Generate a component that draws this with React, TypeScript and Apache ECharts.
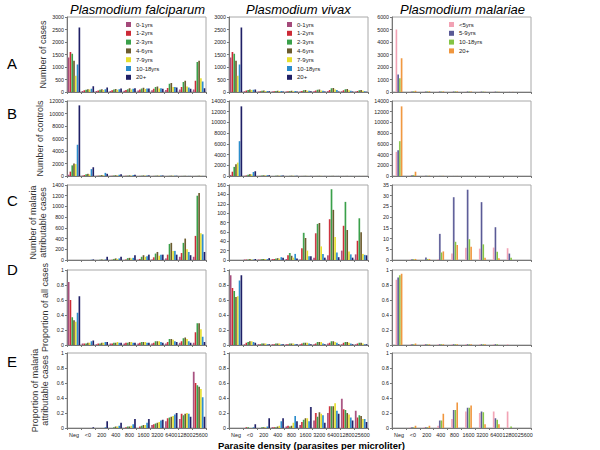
import React, { useEffect, useRef } from 'react';
import * as echarts from 'echarts';

const categories = ['Neg', '<0', '200', '400', '800', '1600', '3200', '6400', '12800', '25600'];
const ageGroups = ['0-1yrs', '1-2yrs', '2-3yrs', '4-6yrs', '7-9yrs', '10-18yrs', '20+'];
const malariaeAgeGroups = ['<5yrs', '5-9yrs', '10-18yrs', '20+'];
const columnTitles = ['Plasmodium falciparum', 'Plasmodium vivax', 'Plasmodium malariae'];
const rowLetters = ['A', 'B', 'C', 'D', 'E'];
const rowNames = [
  'Number of cases',
  'Number of controls',
  'Number of malaria\nattributable cases',
  'Proportion of all cases',
  'Proportion of malaria\nattributable cases',
];
const xTitle = 'Parasite density (parasites per microliter)';

// Y axis ranges per [row][col]
const yMaxes = [[3000, 3000, 6000], [12000, 14000, 14000], [1400, 160, 35], [1, 1, 1], [1, 1, 1]];
const yIntervals = [[500, 500, 1000], [2000, 2000, 2000], [200, 20, 5], [0.2, 0.2, 0.2], [0.2, 0.2, 0.2]];

// Each row = one parasite density category, values per age group
// P. falciparum
const pfCases = [
  [1380, 1600, 1530, 1250, 650, 1100, 2580],
  [40, 70, 90, 110, 100, 130, 230],
  [40, 60, 90, 110, 80, 110, 180],
  [40, 70, 100, 120, 90, 110, 140],
  [50, 80, 110, 150, 100, 130, 150],
  [60, 100, 140, 170, 120, 140, 140],
  [70, 130, 200, 220, 140, 150, 130],
  [80, 160, 330, 360, 200, 200, 180],
  [100, 200, 400, 450, 220, 180, 130],
  [100, 450, 1200, 1250, 550, 420, 150],
];
const pfControls = [
  [200, 700, 1700, 2000, 1900, 5000, 11300],
  [50, 150, 300, 350, 250, 1100, 1400],
  [20, 50, 100, 150, 100, 500, 350],
  [20, 40, 80, 120, 80, 200, 300],
  [10, 30, 60, 100, 60, 150, 200],
  [10, 20, 50, 80, 60, 100, 100],
  [10, 20, 40, 60, 50, 80, 80],
  [5, 10, 30, 50, 30, 50, 40],
  [5, 10, 20, 30, 20, 20, 10],
  [5, 10, 20, 30, 20, 10, 5],
];
const pfAttributable = [
  [0, 0, 0, 0, 0, 0, 0],
  [0, 0, 0, 0, 0, 5, 10],
  [0, 0, 5, 10, 5, 10, 60],
  [0, 5, 20, 30, 20, 30, 60],
  [0, 10, 35, 40, 30, 40, 90],
  [5, 20, 60, 90, 60, 70, 100],
  [10, 50, 120, 150, 80, 100, 100],
  [30, 100, 300, 320, 170, 170, 100],
  [60, 130, 320, 400, 200, 150, 90],
  [60, 450, 1200, 1250, 500, 480, 150],
];
const pfPropAll = [
  [0.84, 0.6, 0.37, 0.33, 0.31, 0.43, 0.65],
  [0.02, 0.02, 0.02, 0.03, 0.03, 0.05, 0.06],
  [0.01, 0.02, 0.02, 0.03, 0.03, 0.04, 0.04],
  [0.02, 0.02, 0.03, 0.03, 0.04, 0.03, 0.03],
  [0.02, 0.03, 0.03, 0.04, 0.04, 0.03, 0.03],
  [0.02, 0.03, 0.04, 0.04, 0.04, 0.03, 0.03],
  [0.02, 0.03, 0.05, 0.05, 0.05, 0.04, 0.03],
  [0.02, 0.04, 0.08, 0.08, 0.07, 0.05, 0.04],
  [0.03, 0.05, 0.09, 0.1, 0.08, 0.05, 0.03],
  [0.03, 0.17, 0.29, 0.29, 0.21, 0.11, 0.04],
];
const pfPropAttributable = [
  [0, 0, 0, 0, 0, 0, 0],
  [0, 0, 0, 0, 0, 0, 0.01],
  [0, 0, 0, 0, 0, 0.01, 0.09],
  [0, 0, 0.01, 0.02, 0.02, 0.03, 0.07],
  [0, 0.01, 0.02, 0.02, 0.03, 0.05, 0.12],
  [0, 0.02, 0.03, 0.04, 0.04, 0.07, 0.12],
  [0.04, 0.05, 0.06, 0.07, 0.08, 0.1, 0.11],
  [0.09, 0.13, 0.14, 0.15, 0.16, 0.18, 0.2],
  [0.12, 0.19, 0.17, 0.19, 0.2, 0.19, 0.15],
  [0.75, 0.6, 0.57, 0.55, 0.52, 0.41, 0.15],
];

// P. vivax
const pvCases = [
  [1380, 1600, 1530, 1250, 650, 1100, 2580],
  [30, 60, 80, 100, 80, 90, 100],
  [20, 30, 50, 60, 40, 40, 30],
  [20, 30, 40, 50, 40, 40, 20],
  [20, 30, 40, 50, 30, 40, 20],
  [20, 40, 70, 80, 50, 50, 30],
  [30, 60, 90, 100, 60, 50, 20],
  [40, 80, 150, 160, 100, 80, 20],
  [30, 70, 110, 120, 70, 50, 20],
  [20, 40, 70, 80, 50, 30, 10],
];
const pvControls = [
  [200, 800, 1700, 2200, 2500, 6500, 13000],
  [30, 100, 250, 350, 300, 750, 900],
  [10, 30, 80, 120, 100, 150, 150],
  [5, 20, 50, 70, 60, 80, 80],
  [5, 15, 30, 50, 40, 40, 40],
  [5, 10, 20, 30, 20, 20, 20],
  [5, 10, 20, 30, 20, 20, 10],
  [5, 10, 20, 30, 20, 10, 10],
  [5, 10, 10, 20, 10, 10, 5],
  [5, 5, 10, 10, 10, 5, 5],
];
const pvAttributable = [
  [0, 0, 0, 0, 0, 0, 0],
  [1, 1, 1, 2, 1, 1, 2],
  [1, 1, 2, 2, 2, 2, 4],
  [2, 2, 3, 4, 3, 6, 5],
  [2, 10, 15, 9, 5, 13, 3],
  [1, 25, 58, 47, 20, 8, 8],
  [5, 57, 77, 79, 29, 13, 5],
  [10, 87, 151, 107, 49, 16, 6],
  [20, 73, 124, 64, 18, 12, 5],
  [12, 41, 89, 59, 13, 11, 10],
];
const pvPropAll = [
  [0.93, 0.76, 0.72, 0.64, 0.65, 0.86, 0.93],
  [0.01, 0.03, 0.04, 0.05, 0.05, 0.04, 0.03],
  [0.01, 0.01, 0.02, 0.02, 0.02, 0.01, 0.01],
  [0.01, 0.01, 0.02, 0.02, 0.02, 0.01, 0.01],
  [0.01, 0.01, 0.02, 0.02, 0.02, 0.01, 0.01],
  [0.01, 0.02, 0.03, 0.03, 0.03, 0.02, 0.01],
  [0.01, 0.02, 0.04, 0.04, 0.04, 0.02, 0.01],
  [0.02, 0.03, 0.05, 0.05, 0.04, 0.03, 0.01],
  [0.01, 0.03, 0.04, 0.04, 0.03, 0.02, 0.01],
  [0.01, 0.02, 0.03, 0.03, 0.02, 0.01, 0.01],
];
const pvPropAttributable = [
  [0, 0, 0, 0, 0, 0, 0],
  [0, 0.01, 0.01, 0, 0, 0.01, 0.05],
  [0, 0, 0.01, 0.01, 0.01, 0.02, 0.13],
  [0.01, 0.01, 0.01, 0.02, 0.03, 0.09, 0.13],
  [0.02, 0.03, 0.02, 0.03, 0.07, 0.16, 0.09],
  [0.04, 0.08, 0.11, 0.13, 0.13, 0.09, 0.28],
  [0.1, 0.2, 0.15, 0.21, 0.19, 0.17, 0.07],
  [0.2, 0.29, 0.29, 0.29, 0.33, 0.23, 0.19],
  [0.39, 0.25, 0.24, 0.2, 0.18, 0.14, 0.1],
  [0.23, 0.14, 0.17, 0.16, 0.12, 0.12, 0.08],
];

// P. malariae
const pmCases = [
  [5000, 1400, 1100, 2700],
  [30, 50, 60, 100],
  [20, 40, 50, 60],
  [20, 40, 40, 50],
  [20, 40, 50, 50],
  [20, 40, 40, 40],
  [20, 30, 30, 30],
  [20, 30, 20, 20],
  [10, 10, 10, 10],
  [0, 0, 0, 0],
];
const pmControls = [
  [4500, 4800, 6500, 13000],
  [100, 150, 200, 800],
  [20, 30, 40, 60],
  [10, 20, 20, 30],
  [10, 10, 10, 20],
  [5, 10, 10, 10],
  [5, 5, 5, 10],
  [0, 5, 5, 5],
  [0, 0, 0, 0],
  [0, 0, 0, 0],
];
const pmAttributable = [
  [0, 0, 0, 0],
  [0.2, 0.3, 0.4, 0.5],
  [0, 1.2, 0.5, 0.5],
  [0.3, 12.2, 3.5, 4],
  [3, 29.3, 8.5, 7],
  [5.7, 32.8, 9.7, 6.2],
  [5.3, 27, 7.3, 1],
  [5.8, 15.3, 3.8, 0.8],
  [5.5, 3, 1, 0],
  [0, 0, 0, 0],
];
const pmPropAll = [
  [0.87, 0.9, 0.93, 0.95],
  [0.01, 0.01, 0.01, 0.02],
  [0.01, 0.01, 0.01, 0.01],
  [0.01, 0.01, 0.01, 0.01],
  [0.01, 0.01, 0.01, 0.01],
  [0.01, 0.01, 0.01, 0.01],
  [0.01, 0.01, 0.01, 0.01],
  [0.01, 0.01, 0.01, 0],
  [0.01, 0, 0, 0],
  [0, 0, 0, 0],
];
const pmPropAttributable = [
  [0, 0, 0, 0],
  [0.01, 0.01, 0.01, 0.03],
  [0.01, 0.01, 0.01, 0.03],
  [0.03, 0.1, 0.1, 0.19],
  [0.12, 0.24, 0.24, 0.34],
  [0.22, 0.27, 0.27, 0.3],
  [0.2, 0.22, 0.21, 0.05],
  [0.22, 0.13, 0.11, 0.05],
  [0.22, 0, 0.02, 0],
  [0, 0, 0, 0],
];

const ageColors = ['#a4497a', '#cc2a36', '#3aa04a', '#6b5b2e', '#e6df2e', '#2a8ccc', '#1f1f66'];
const malariaeColors = ['#f2a2b4', '#5a5a96', '#84c444', '#f0963e'];

const panels = [
  [pfCases, pvCases, pmCases],
  [pfControls, pvControls, pmControls],
  [pfAttributable, pvAttributable, pmAttributable],
  [pfPropAll, pvPropAll, pmPropAll],
  [pfPropAttributable, pvPropAttributable, pmPropAttributable],
];

const colLeft = [67, 229, 392];
const colWidth = 139;
const rowTop = [17, 101, 185, 270, 353];
const rowHeight = 75;
const letterY = [56, 106, 193, 262, 354];
const titleX = [70, 246, 400];

function shade(hex: string, amt: number) {
  const n = parseInt(hex.slice(1), 16);
  let r = (n >> 16) & 255, g = (n >> 8) & 255, b = n & 255;
  r = Math.round(r + (255 - r) * amt);
  g = Math.round(g + (255 - g) * amt);
  b = Math.round(b + (255 - b) * amt);
  return `rgb(${r},${g},${b})`;
}

function barColor(hex: string) {
  return new echarts.graphic.LinearGradient(0, 0, 1, 0, [
    { offset: 0, color: shade(hex, 0.25) },
    { offset: 0.5, color: hex },
    { offset: 1, color: hex },
  ]);
}

export default function App() {
  const ref = useRef<HTMLDivElement>(null);
  useEffect(() => {
    if (!ref.current) return;
    const chart = echarts.init(ref.current, undefined, { renderer: 'svg' });
    const grids: any[] = [];
    const xAxes: any[] = [];
    const yAxes: any[] = [];
    const series: any[] = [];
    let idx = 0;
    for (let r = 0; r < 5; r++) {
      for (let c = 0; c < 3; c++) {
        grids.push({
          left: colLeft[c], top: rowTop[r], width: colWidth, height: rowHeight,
          show: true, borderColor: '#a8a8a8', borderWidth: 1, backgroundColor: '#fff',
        });
        xAxes.push({
          type: 'category', gridIndex: idx, data: categories,
          axisLine: { lineStyle: { color: '#777' } },
          axisTick: { show: true, length: 2, lineStyle: { color: '#777' } },
          axisLabel: {
            show: r === 4, fontSize: 5.4, color: '#222', interval: 0, margin: 4, fontFamily: 'Liberation Sans',
            formatter: (v: string) => (v === '12800' ? '{l|' + v + '}' : v === '25600' ? '{r|' + v + '}' : v),
            rich: {
              l: { fontSize: 5.4, color: '#222', fontFamily: 'Liberation Sans', padding: [0, 0.4, 0, 0] },
              r: { fontSize: 5.4, color: '#222', fontFamily: 'Liberation Sans', padding: [0, 0, 0, 2.2] },
            },
          },
        });
        yAxes.push({
          type: 'value', gridIndex: idx, min: 0, max: yMaxes[r][c], interval: yIntervals[r][c],
          axisLine: { show: true, lineStyle: { color: '#777' } },
          axisTick: { show: true, length: 2, lineStyle: { color: '#777' } },
          splitLine: { show: false },
          axisLabel: {
            fontSize: 5.3, color: '#222', margin: 3, fontFamily: 'Liberation Sans',
            formatter: (v: number) => String(Math.round(v * 1000) / 1000),
          },
          name: c === 0 ? rowNames[r] : '',
          nameLocation: 'middle', nameRotate: 90,
          nameGap: 17,
          nameTextStyle: { fontSize: 9, color: '#333', fontFamily: 'Liberation Sans', lineHeight: 10 },
        });
        const rows = panels[r][c];
        const names = c === 2 ? malariaeAgeGroups : ageGroups;
        const colors = c === 2 ? malariaeColors : ageColors;
        names.forEach((name, s) => {
          series.push({
            type: 'bar', name, xAxisIndex: idx, yAxisIndex: idx,
            data: rows.map((row) => row[s]),
            barGap: '0%', barCategoryGap: c === 2 ? '50%' : '10%',
            itemStyle: { color: barColor(colors[s]) },
          });
        });
        idx++;
      }
    }
    const graphics: any[] = [];
    rowLetters.forEach((t, r) => {
      graphics.push({
        type: 'text', x: 7, y: letterY[r],
        style: { text: t, fontSize: 15, fontFamily: 'Liberation Sans', fill: '#000', align: 'left', verticalAlign: 'top' },
      });
    });
    columnTitles.forEach((t, c) => {
      graphics.push({
        type: 'text', x: titleX[c], y: 3,
        style: { text: t, fontSize: 13, fontStyle: 'italic', fontFamily: 'Liberation Sans', fill: '#000', align: 'left', verticalAlign: 'top' },
      });
    });
    graphics.push({
      type: 'text', x: 218, y: 440,
      style: { text: xTitle, fontSize: 9.5, fontWeight: 'bold', fontFamily: 'Liberation Sans', fill: '#000', align: 'left', verticalAlign: 'top' },
    });

    const legendBase = {
      orient: 'vertical', itemWidth: 5, itemHeight: 5, itemGap: 2.8, icon: 'rect', padding: 0,
      selectedMode: false, textStyle: { fontSize: 6, lineHeight: 6, color: '#222', fontFamily: 'Liberation Sans' },
    };
    chart.setOption({
      animation: false,
      backgroundColor: '#fff',
      grid: grids,
      xAxis: xAxes,
      yAxis: yAxes,
      series,
      legend: [
        { ...legendBase, left: 126, top: 21.5, data: ageGroups.map((n, i) => ({ name: n, itemStyle: { color: ageColors[i] } })) },
        { ...legendBase, left: 287, top: 21.5, data: ageGroups.map((n, i) => ({ name: n, itemStyle: { color: ageColors[i] } })) },
        { ...legendBase, left: 449, top: 21.5, data: malariaeAgeGroups.map((n, i) => ({ name: n, itemStyle: { color: malariaeColors[i] } })) },
      ],
      graphic: graphics,
    });
    return () => chart.dispose();
  }, []);
  return <div ref={ref} style={{ position: 'absolute', left: 0, top: 0, width: 600, height: 450 }} />;
}
